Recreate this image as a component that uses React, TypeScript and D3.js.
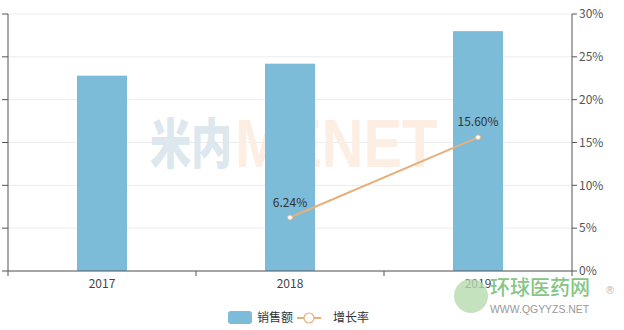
import React from "react";
import * as d3 from "d3";

const categories = ["2017", "2018", "2019"];
const salesValues = [22.8, 24.2, 28.0];
const growthCats = ["2018", "2019"];
const growthValues = [6.24, 15.6];
const leftTicks = [0, 5, 10, 15, 20, 25, 30];
const rightTicks = [0, 5, 10, 15, 20, 25, 30];
const legendLabels = ["销售额", "增长率"];

const W = 624, H = 330;
const left = 8, right = 572, top = 14, bottom = 271;
const FONT = "'Noto Sans CJK SC', 'Open Sans', sans-serif";

export default function App() {
  const x = d3.scaleBand().domain(categories).range([left, right]);
  const yL = d3.scaleLinear().domain([0, 30]).range([bottom, top]);
  const yR = d3.scaleLinear().domain([0, 30]).range([bottom, top]);
  const barW = 50;
  const lineGen = d3
    .line<number>()
    .x((_, i) => (x(growthCats[i]) as number) + x.bandwidth() / 2)
    .y((d) => yR(d));

  return (
    <svg width={W} height={H} style={{ position: "absolute", left: 0, top: 0 }} fontFamily={FONT}>
      <rect width={W} height={H} fill="#fff" />
      {/* gridlines */}
      {leftTicks.map((t) => (
        <line key={"g" + t} x1={left} x2={right} y1={yL(t)} y2={yL(t)} stroke="#ececec" strokeWidth={1} />
      ))}
      {/* watermark */}
      <g transform="translate(150,164) scale(0.76,1)">
        <text x={0} y={0} fontSize={54} fontWeight={900} fill="#dde7ee">米内</text>
      </g>
      <g transform="translate(235,167) scale(0.85,1)">
        <text x={0} y={0} fontSize={68} fontWeight={700} fill="#fdeee3" fontFamily="'Liberation Sans', sans-serif">MENET</text>
      </g>
      {/* bars */}
      {categories.map((c, i) => (
        <rect
          key={c}
          x={(x(c) as number) + x.bandwidth() / 2 - barW / 2}
          y={yL(salesValues[i])}
          width={barW}
          height={bottom - yL(salesValues[i])}
          fill="#7cbcd9"
        />
      ))}
      {/* left axis */}
      <line x1={left} x2={left} y1={top} y2={bottom} stroke="#555" />
      {leftTicks.map((t) => (
        <line key={"lt" + t} x1={left - 6} x2={left} y1={yL(t)} y2={yL(t)} stroke="#555" />
      ))}
      {/* right axis */}
      <line x1={right} x2={right} y1={top} y2={bottom} stroke="#555" />
      {rightTicks.map((t) => (
        <g key={"rt" + t}>
          <line x1={right} x2={right + 5} y1={yR(t)} y2={yR(t)} stroke="#555" />
          <text x={right + 7} y={yR(t)} dy="0.35em" fontSize={12} fill="#555">
            {t + "%"}
          </text>
        </g>
      ))}
      {/* x axis */}
      <line x1={left} x2={right} y1={bottom} y2={bottom} stroke="#555" />
      {[0, 1, 2, 3].map((i) => (
        <line key={"xt" + i} x1={left + i * x.step()} x2={left + i * x.step()} y1={bottom} y2={bottom + 5} stroke="#555" />
      ))}
      {categories.map((c) => (
        <text key={"xl" + c} x={(x(c) as number) + x.bandwidth() / 2} y={bottom + 17} textAnchor="middle" fontSize={12} fill="#444">
          {c}
        </text>
      ))}
      {/* line */}
      <path d={lineGen(growthValues) || ""} fill="none" stroke="#e6b07c" strokeWidth={2} />
      {growthValues.map((v, i) => {
        const cx = (x(growthCats[i]) as number) + x.bandwidth() / 2;
        return (
          <g key={"p" + i}>
            <circle cx={cx} cy={yR(v)} r={2.5} fill="#fff" stroke="#e6b07c" strokeWidth={1} />
            <text x={cx} y={yR(v) - 11} textAnchor="middle" fontSize={12} fill="#333">
              {v.toFixed(2) + "%"}
            </text>
          </g>
        );
      })}
      {/* legend */}
      <rect x={228} y={311} width={24} height={13} rx={3} fill="#7cbcd9" />
      <text x={257} y={318} dy="0.35em" fontSize={12} fill="#333">{legendLabels[0]}</text>
      <line x1={297} x2={321} y1={318} y2={318} stroke="#e6b07c" strokeWidth={2} />
      <circle cx={309} cy={318} r={5} fill="#fff" stroke="#e6b07c" strokeWidth={1.2} />
      <text x={333} y={318} dy="0.35em" fontSize={12} fill="#333">{legendLabels[1]}</text>
      {/* bottom-right watermark */}
      <circle cx={471} cy={296} r={17} fill="#b4dbac" opacity={0.8} />
      <text x={490} y={295} fontSize={20} fontWeight={500} fill="#86c584">环球医药网</text>
      <text x={605} y={294} fontSize={10} fill="#bbb" fontFamily="'DejaVu Sans', sans-serif">®</text>
      <g transform="translate(490,313) scale(0.95,1)">
        <text x={0} y={0} fontSize={11} fill="#999" fontFamily="'Liberation Sans', sans-serif">WWW.QGYYZS.NET</text>
      </g>
    </svg>
  );
}
